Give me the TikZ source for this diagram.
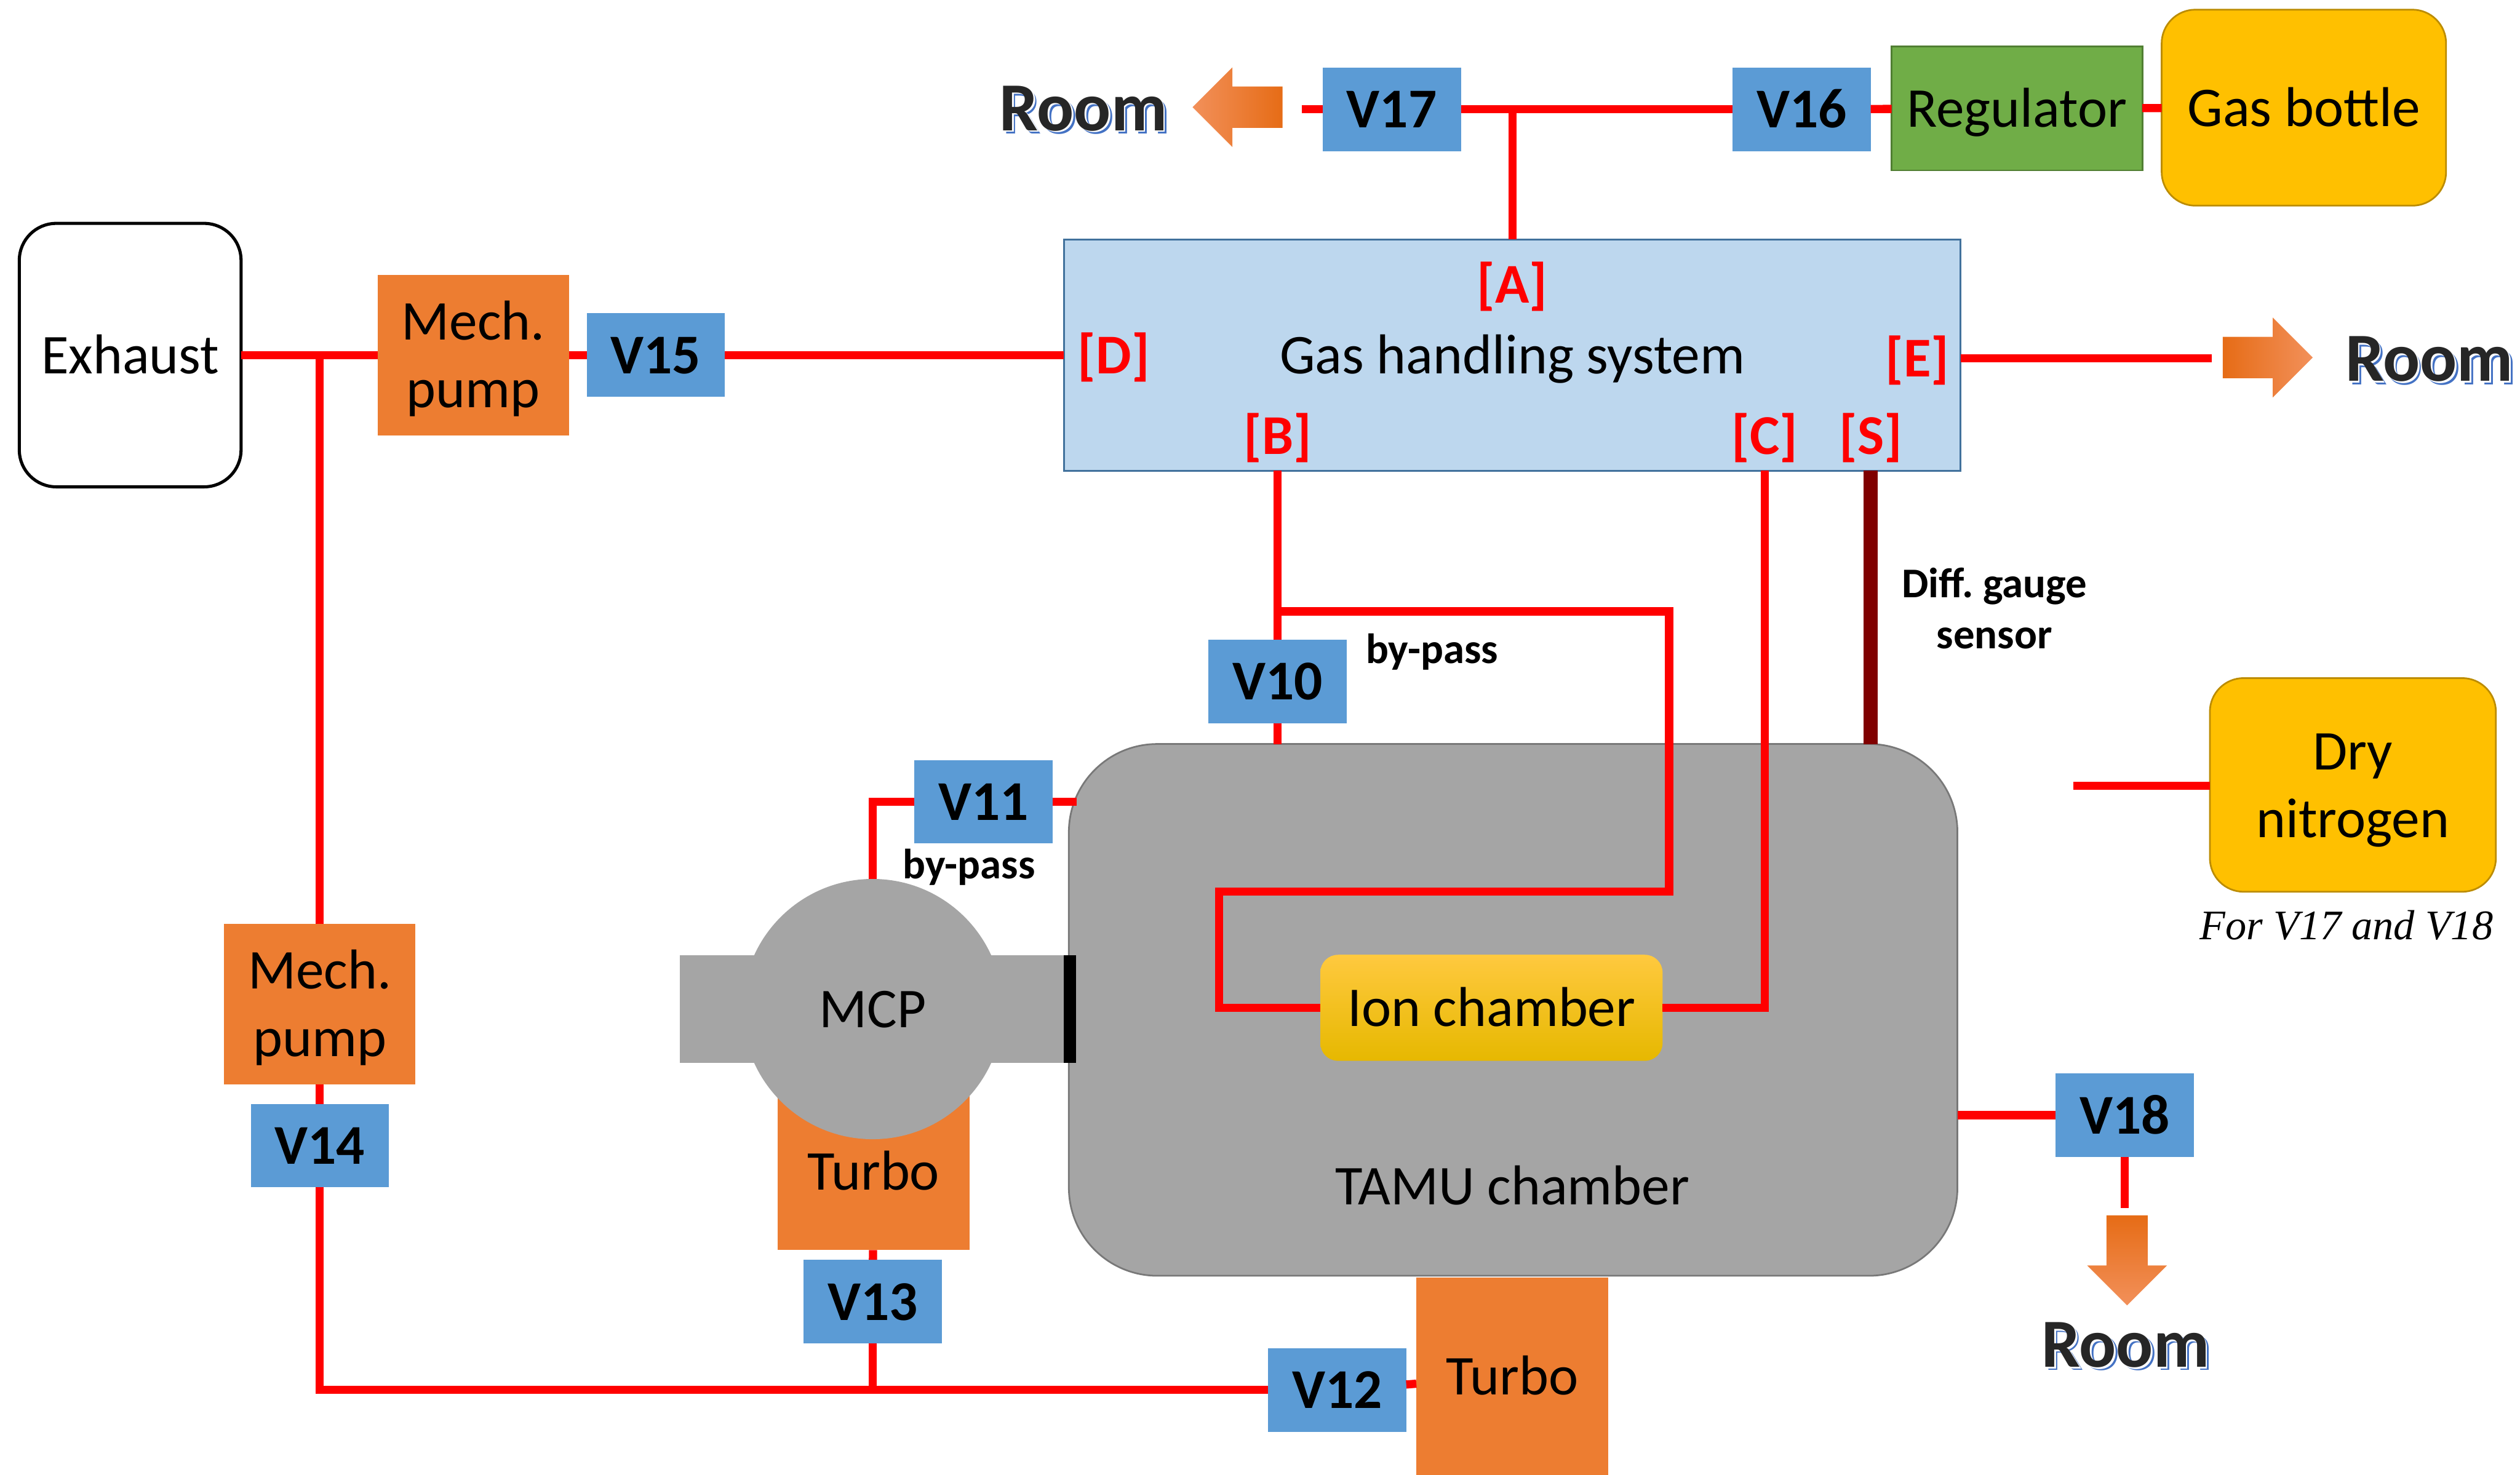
\documentclass[tikz,border=0pt]{standalone}
\usepackage{fontspec}
\setmainfont{Carlito}
\newfontfamily\seriffont{Liberation Serif}
\usetikzlibrary{shapes.geometric,shapes.arrows}
\definecolor{pumporange}{HTML}{ED7D31}
\definecolor{valveblue}{HTML}{5B9BD5}
\definecolor{bottlegold}{HTML}{FFC000}
\definecolor{bottleline}{HTML}{BC8C00}
\definecolor{regugreen}{HTML}{70AD47}
\definecolor{reguline}{HTML}{507E32}
\definecolor{gassblue}{HTML}{BDD7EE}
\definecolor{gassline}{HTML}{41719C}
\definecolor{chambergray}{HTML}{A5A5A5}
\definecolor{chamberline}{HTML}{787878}
\definecolor{roomblack}{HTML}{262626}
\definecolor{roomblue}{HTML}{4472C4}
\definecolor{flowdark}{HTML}{E66C16}
\definecolor{flowmid}{HTML}{F67E2A}
\definecolor{flowlight}{HTML}{F2905A}
\definecolor{iontop}{HTML}{FFC93F}
\definecolor{ionbottom}{HTML}{E6B800}
\newcommand{\mainsize}{\fontsize{19.9}{23.9}\selectfont}
\newcommand{\smallsize}{\fontsize{15}{18}\selectfont\bfseries}
\newcommand{\linestrut}{\rule[-.27em]{0pt}{1.2em}}
\newcommand{\roomtxt}{\rlap{\kern1.2pt\raisebox{-1.2pt}{\color{roomblue}Room}}\rlap{\kern.6pt\raisebox{-.6pt}{\color{white}Room}}Room}
\tikzstyle{oneline} = [execute at begin node=\linestrut, execute at end node=\linestrut]
\tikzstyle{box} = [rectangle, inner sep=0pt, outer sep=0pt, align=center, text=black, font=\mainsize]
\tikzstyle{valve} = [box, oneline, minimum width=1.72cm, minimum height=1.04cm, fill=valveblue, font=\mainsize\bfseries]
\tikzstyle{pump} = [box, minimum width=2.38cm, minimum height=2cm, fill=pumporange]
\tikzstyle{turbo} = [box, oneline, minimum width=2.39cm, fill=pumporange]
\tikzstyle{supply} = [box, rounded corners=0.42cm, fill=bottlegold, draw=bottleline, line width=0.6pt]
\tikzstyle{port} = [oneline, inner sep=0pt, outer sep=0pt, text=red, font=\mainsize\bfseries]
\tikzstyle{note} = [inner sep=0pt, outer sep=0pt, align=center, font=\smallsize]
\tikzstyle{room} = [inner sep=0pt, outer sep=0pt, text=roomblack, font=\fontsize{24.4}{28}\selectfont\bfseries]
\tikzstyle{flow} = [single arrow, single arrow head extend=0.24cm, single arrow tip angle=90, minimum width=0.98cm, minimum height=1.12cm, inner xsep=0pt, inner ysep=0.25cm, outer sep=0pt, anchor=tip]
\tikzstyle{pipe} = [red, line width=2.9pt]
\begin{document}
\begin{tikzpicture}[x=0.02cm, y=-0.02cm]
      \useasboundingbox (0,0) rectangle (1568,917.6);
      \node (gas)[box, oneline, minimum width=11.16cm, minimum height=2.88cm, fill=gassblue, draw=gassline, line width=0.6pt] at (941,221){Gas handling system};
      \node (tamu)[box, minimum width=11.06cm, minimum height=6.62cm, rounded corners=1.1cm, fill=chambergray, draw=chamberline, line width=0.6pt] at (941.5,628.5){};
      \node (tamulabel)[box, oneline] at (941,738){TAMU chamber};
      \node (exhaust)[box, oneline, minimum width=2.76cm, minimum height=3.28cm, rounded corners=0.46cm, fill=white, draw=black, line width=1.1pt] at (81,221){Exhaust};
      \node (regulator)[box, oneline, minimum width=3.12cm, minimum height=1.54cm, fill=regugreen, draw=reguline, line width=0.6pt] at (1255,67.5){Regulator};
      \node (bottle)[supply, oneline, minimum width=3.54cm, minimum height=2.44cm] at (1433.5,67){Gas bottle};
      \node (nitrogen)[supply, minimum width=3.56cm, minimum height=2.66cm] at (1464,488.5){\linestrut Dry\\\linestrut nitrogen};
      \node (fornote)[inner sep=0pt, font=\seriffont\itshape\fontsize{14.9}{18}\selectfont] at (1460,576){For V17 and V18};
      \node (pump1)[pump] at (294.5,221){\linestrut Mech.\\\linestrut pump};
      \node (pump2)[pump] at (199,625){\linestrut Mech.\\\linestrut pump};
      \node (turbo1)[turbo, minimum height=1.96cm] at (543.5,729){Turbo};
      \node (turbo2)[turbo, minimum height=2.46cm] at (941,856.5){Turbo};
      \node (mcpbar)[box, minimum width=4.92cm, minimum height=1.34cm, fill=chambergray] at (546,628){};
      \node (mcp)[box, oneline, circle, minimum width=3.24cm, fill=chambergray] at (543,628){MCP};
      \node (flange)[box, minimum width=0.16cm, minimum height=1.34cm, fill=black] at (665.7,628){};
      \node (ion)[box, oneline, minimum width=4.26cm, minimum height=1.32cm, rounded corners=0.22cm, top color=iontop, middle color=bottlegold, bottom color=ionbottom] at (928,627.2){Ion chamber};
      \node (v10)[valve] at (795,424){V10};
      \node (v11)[valve] at (612,499){V11};
      \node (v12)[valve] at (832,865){V12};
      \node (v13)[valve] at (543,810){V13};
      \node (v14)[valve] at (199,713){V14};
      \node (v15)[valve] at (408,221){V15};
      \node (v16)[valve] at (1121,68){V16};
      \node (v17)[valve] at (866,68){V17};
      \node (v18)[valve] at (1322,694){V18};
      \node (porta)[port] at (941,177){[A]};
      \node (portb)[port] at (795,271){[B]};
      \node (portc)[port] at (1098,271){[C]};
      \node (portd)[port] at (693,221){[D]};
      \node (porte)[port] at (1193,223){[E]};
      \node (ports)[port] at (1164,271){[S]};
      \node (bypass1)[note, oneline] at (891,404){by-pass};
      \node (bypass2)[note, oneline] at (603,538){by-pass};
      \node (diff)[note] at (1241,379){\linestrut Diff.\ gauge\\\linestrut sensor};
      \node (arrowa)[flow, rotate=180, left color=flowlight, middle color=flowmid, right color=flowdark] at (742,66.7){};
      \node (arrowb)[flow, left color=flowdark, middle color=flowmid, right color=flowlight] at (1439,222.5){};
      \node (arrowc)[flow, rotate=-90, top color=flowdark, middle color=flowmid, bottom color=flowlight] at (1323.5,812.4){};
      \node (rooma)[room] at (674,68.5){\roomtxt};
      \node (roomb)[room] at (1511.5,224.5){\roomtxt};
      \node (roomc)[room] at (1322.5,838){\roomtxt};
      \coordinate (enda) at (810,68);
      \coordinate (endb) at (1376,223);
      \coordinate (endc) at (1322,752);
      \coordinate (endd) at (1290,489);
      \coordinate (ende) at (670,499);
      \coordinate (teea) at (199,221);
      \coordinate (teeb) at (795,380.5);
      \coordinate (bpa) at (1038.5,380.5);
      \coordinate (bpb) at (1038.5,555);
      \coordinate (bpc) at (758.5,555);
      \coordinate (corner) at (199,865);
      \coordinate (teec) at (543,865);
      \draw [pipe](enda)--(v17);
      \draw [pipe](v17)--(v16);
      \draw [pipe](v16)--(regulator);
      \draw [pipe](regulator)--(bottle);
      \draw [pipe](gas.north)--(gas.north |- v17);
      \draw [pipe](exhaust)--(pump1);
      \draw [pipe](pump1)--(v15);
      \draw [pipe](v15)--(v15 -| gas.west);
      \draw [pipe](teea)--(pump2);
      \draw [pipe](pump2)--(v14);
      \draw [pipe](v14.south)--(corner)--(v12);
      \draw [pipe](v12)--(turbo2);
      \draw [pipe](v13)--(turbo1);
      \draw [pipe](v13.south)--(teec);
      \draw [pipe](v11)-|(mcp);
      \draw [pipe](v11)--(ende);
      \draw [pipe](portb |- gas.south)--(v10);
      \draw [pipe](v10)--(v10 |- tamu.north);
      \draw [pipe](teeb)--(bpa)--(bpb)--(bpc)|-(ion);
      \draw [pipe](portc |- gas.south)|-(ion);
      \draw [pipe](gas.east |- porte)--(endb);
      \draw [pipe](nitrogen.west |- endd)--(endd);
      \draw [pipe](v18 -| tamu.east)--(v18);
      \draw [pipe](v18)--(endc);
      \draw [line width=4.9pt, red!50!black](ports |- gas.south)--(ports |- tamu.north);
\end{tikzpicture}
\end{document}
